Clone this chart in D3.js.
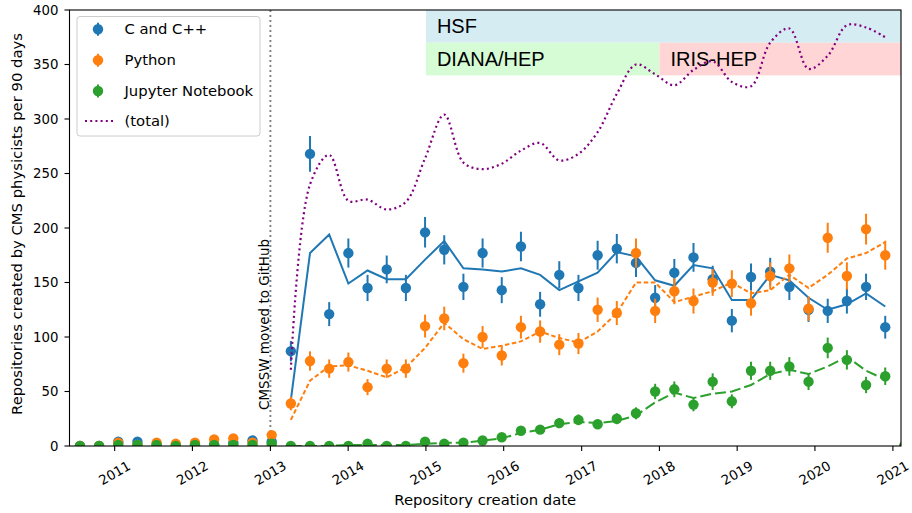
<!DOCTYPE html>
<html><head><meta charset="utf-8">
<script src="https://cdn.jsdelivr.net/npm/d3@7"></script>
<style>body{margin:0;background:#fff} svg{display:block}</style>
</head><body><svg id="c" width="912" height="513"></svg>
<script>
// ---- DATA ----
const dates = ["2010-07-22","2010-10-20","2011-01-18","2011-04-18","2011-07-17","2011-10-15","2012-01-13","2012-04-12","2012-07-11","2012-10-09",
"2013-01-07","2013-04-07","2013-07-06","2013-10-04","2014-01-02","2014-04-02","2014-07-01","2014-09-29","2014-12-28","2015-03-28",
"2015-06-26","2015-09-24","2015-12-23","2016-03-22","2016-06-20","2016-09-18","2016-12-17","2017-03-17","2017-06-15","2017-09-13",
"2017-12-12","2018-03-12","2018-06-10","2018-09-08","2018-12-07","2019-03-07","2019-06-05","2019-09-03","2019-12-02","2020-03-01",
"2020-05-30","2020-08-28","2020-11-26","2021-02-24"];
const cppCounts = [0,0,4,4,1,1,1,1,3,5, 4,87,268,121,177,145,162,145,196,180, 146,177,143,183,130,157,145,175,181,168, 136,159,173,153,115,155,160,146,125,124, 133,146,109,0];
const pyCounts  = [0,0,3,1,3,2,3,6,7,3, 10,39,78,71,77,54,71,71,110,117, 76,100,83,109,105,93,94,125,122,177, 124,142,133,150,149,131,156,163,126,191, 156,199,175,0];
const jupCounts = [0,0,1,1,1,0,1,1,1,1, 2,0,0,0,0,2,0,0,4,2, 3,5,8,14,15,21,24,20,25,30, 50,52,38,59,41,69,69,73,59,90, 79,56,64,0];
const cppSmooth = [null,null,null,null,null,null,null,null,null,null, null,42,177,194,149,161,153,153,171,188, 163,162,160,163,157,143,151,159,178,174, 152,147,166,163,134,134,157,152,136,125, 130,140,128,null];
const pySmooth  = [null,null,null,null,null,null,null,null,null,null, null,24,60,73,74,69,63,72,90,113, 98,89,92,96,105,99,95,105,122,150, 150,132,137,142,150,140,143,157,145,157, 172,177,187,null];
const jupSmooth = [null,null,null,null,null,null,null,null,null,null, null,0,0,0,1,1,1,1,2,3, 3,5,7,12,15,20,22,21,23,28, 40,49,44,48,50,56,66,70,66,73, 82,69,61,null];
const totalSmooth = [null,null,null,null,null,null,null,null,null,null, null,70,240,267,225,226,217,224,264,304, 260,254,259,271,278,262,268,288,323,350, 341,331,345,353,334,330,370,383,346,358, 386,384,375,null];
const seriesNames = ["C and C++","Python","Jupyter Notebook"];
const totalName = "(total)";
const yTicks = [0,50,100,150,200,250,300,350,400];
const xTickYears = [2011,2012,2013,2014,2015,2016,2017,2018,2019,2020,2021];
const bandLabels = ["HSF","DIANA/HEP","IRIS-HEP"];
const bandStarts = ["2015-01-01","2015-01-01","2018-01-01"];
const bandEnds   = ["2021-03-01","2018-01-01","2021-03-01"];
const bandLow    = [370,340,340];
const bandHigh   = [400,370,370];
const eventDate = "2013-01-01";
const eventLabel = "CMSSW moved to GitHub";
const xLabel = "Repository creation date";
const yLabel = "Repositories created by CMS physicists per 90 days";

// ---- STYLE / LAYOUT ----
const colors = ["#1f77b4","#ff7f0e","#2ca02c"];
const dashes = [null,"4.5,2.6","11,4"];
const bandColors = ["#d6ecf3","#d5fcd5","#ffd5d5"];
const L=69.5, R=901, T=10, B=446;
const font = "DejaVu Sans, sans-serif";
const fsTick = 13.3, fsLab = 14.8;
const parse = d3.timeParse("%Y-%m-%d");
const dts = dates.map(parse);
const x = d3.scaleTime().domain([parse("2010-06-03"), parse("2021-02-08")]).range([L,R]);
const y = d3.scaleLinear().domain([0,400]).range([B,T]);
const svg = d3.select("#c");

svg.append("defs").append("clipPath").attr("id","clip")
  .append("rect").attr("x",L).attr("y",T).attr("width",R-L).attr("height",B-T);
const plot = svg.append("g").attr("clip-path","url(#clip)");

// bands
bandLabels.forEach((lab,i)=>{
  const x0 = x(parse(bandStarts[i])), x1 = x(parse(bandEnds[i]));
  plot.append("rect").attr("x",x0).attr("y",y(bandHigh[i])).attr("width",x1-x0)
    .attr("height",y(bandLow[i])-y(bandHigh[i])).attr("fill",bandColors[i]);
});
bandLabels.forEach((lab,i)=>{
  const x0 = x(parse(bandStarts[i]));
  plot.append("text").attr("x",x0+11).attr("y",(y(bandHigh[i])+y(bandLow[i]))/2+7)
    .attr("font-family","Liberation Sans, Arial, sans-serif").attr("font-size",20)
    .attr("fill","#000").text(lab);
});

// event line
const ex = x(parse(eventDate));
plot.append("line").attr("x1",ex).attr("x2",ex).attr("y1",T).attr("y2",B)
  .attr("stroke","#808080").attr("stroke-width",1.9).attr("stroke-dasharray","1.9,3.1");
svg.append("text").attr("transform",`translate(${ex-1},410) rotate(-90)`)
  .attr("font-family",font).attr("font-size",13.5).attr("fill","#000").text(eventLabel);

// series
const counts = [cppCounts,pyCounts,jupCounts];
const smooths = [cppSmooth,pySmooth,jupSmooth];
counts.forEach((arr,s)=>{
  const g = plot.append("g");
  arr.forEach((v,i)=>{
    const e = Math.sqrt(v);
    g.append("line").attr("x1",x(dts[i])).attr("x2",x(dts[i]))
      .attr("y1",y(v-e)).attr("y2",y(v+e)).attr("stroke",colors[s]).attr("stroke-width",2);
    g.append("circle").attr("cx",x(dts[i])).attr("cy",y(v)).attr("r",5.2).attr("fill",colors[s]);
  });
  const line = d3.line().defined(d=>d[1]!==null).x(d=>x(d[0])).y(d=>y(d[1]));
  const p = g.append("path").attr("d",line(smooths[s].map((v,i)=>[dts[i],v])))
    .attr("fill","none").attr("stroke",colors[s]).attr("stroke-width",2);
  if(dashes[s]) p.attr("stroke-dasharray",dashes[s]);
});
const tline = d3.line().defined(d=>d[1]!==null).curve(d3.curveCatmullRom.alpha(0.5))
  .x(d=>x(d[0])).y(d=>y(d[1]));
plot.append("path").attr("d",tline(totalSmooth.map((v,i)=>[dts[i],v])))
  .attr("fill","none").attr("stroke","#800080").attr("stroke-width",2.2).attr("stroke-dasharray","2,3.2");

// axes
const axes = svg.append("g");
axes.append("rect").attr("x",L).attr("y",T).attr("width",R-L).attr("height",B-T)
  .attr("fill","none").attr("stroke","#000").attr("stroke-width",1.1);
yTicks.forEach(t=>{
  axes.append("line").attr("x1",L-5).attr("x2",L).attr("y1",y(t)).attr("y2",y(t)).attr("stroke","#000").attr("stroke-width",1.1);
  axes.append("text").attr("x",L-11).attr("y",y(t)).attr("dy","0.35em").attr("text-anchor","end")
    .attr("font-family",font).attr("font-size",fsTick).text(t);
});
xTickYears.forEach(t=>{
  const xx = x(new Date(t,0,1));
  axes.append("line").attr("x1",xx).attr("x2",xx).attr("y1",B).attr("y2",B+5).attr("stroke","#000").attr("stroke-width",1.1);
  axes.append("text").attr("transform",`translate(${xx},473) rotate(-30)`).attr("text-anchor","middle")
    .attr("dy","0.35em").attr("font-family",font).attr("font-size",fsTick).text(t);
});
svg.append("text").attr("x",(L+R)/2).attr("y",505).attr("text-anchor","middle")
  .attr("font-family",font).attr("font-size",fsLab).text(xLabel);
svg.append("text").attr("transform",`translate(21.5,${(T+B)/2 - 4}) rotate(-90)`).attr("text-anchor","middle")
  .attr("font-family",font).attr("font-size",fsLab).text(yLabel);

// legend
const lg = svg.append("g");
lg.append("rect").attr("x",77).attr("y",16.5).attr("width",183).attr("height",119.5).attr("rx",3)
  .attr("fill","#fff").attr("fill-opacity",0.8).attr("stroke","#cccccc").attr("stroke-width",1);
const ly = [29.3,60.3,91,121];
seriesNames.forEach((n,i)=>{
  lg.append("line").attr("x1",98).attr("x2",98).attr("y1",ly[i]-6.5).attr("y2",ly[i]+6.5).attr("stroke",colors[i]).attr("stroke-width",2);
  lg.append("circle").attr("cx",98).attr("cy",ly[i]).attr("r",5.2).attr("fill",colors[i]);
  lg.append("text").attr("x",124.5).attr("y",ly[i]).attr("dy","0.35em").attr("font-family",font).attr("font-size",fsLab).text(n);
});
lg.append("line").attr("x1",85).attr("x2",113).attr("y1",ly[3]).attr("y2",ly[3])
  .attr("stroke","#800080").attr("stroke-width",2.2).attr("stroke-dasharray","2,3.2");
lg.append("text").attr("x",124.5).attr("y",ly[3]).attr("dy","0.35em").attr("font-family",font).attr("font-size",fsLab).text(totalName);
</script></body></html>
